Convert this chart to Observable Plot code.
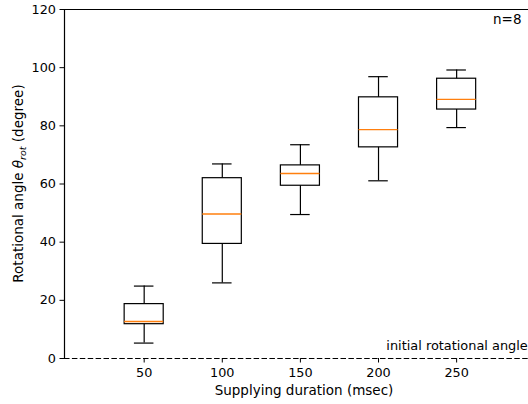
<!DOCTYPE html>
<html><head>
<meta charset="utf-8">
<script src="https://cdn.jsdelivr.net/npm/d3@7"></script>
<script src="https://cdn.jsdelivr.net/npm/@observablehq/plot@0.6"></script>
<style>
body{margin:0;background:#fff}
</style>
</head><body><div id="chart"></div>
<script>
const durations = [50, 100, 150, 200, 250];
const whiskerLow = [5.3, 26.0, 49.5, 61.1, 79.4];
const q1 = [11.8, 39.4, 59.4, 72.6, 85.6];
const median = [12.7, 49.7, 63.6, 78.7, 89.1];
const q3 = [18.7, 62.0, 66.4, 89.8, 96.2];
const whiskerHigh = [24.9, 66.9, 73.5, 96.9, 99.2];
const xTicks = [50, 100, 150, 200, 250];
const yTicks = [0, 20, 40, 60, 80, 100, 120];
const baseline = [0];
const annotation = ["initial rotational angle"];
const nLabel = ["n=8"];
const boxWidth = 25;

const data = durations.map((d, i) => ({
  d, lo: whiskerLow[i], q1: q1[i], med: median[i], q3: q3[i], hi: whiskerHigh[i]
}));

const xMin = -1, xMax = 296;
const lw = 1.2;

const chart = Plot.plot({
  width: 528,
  height: 404,
  marginLeft: 64,
  marginRight: 0,
  marginTop: 9,
  marginBottom: 46,
  style: {fontSize: "12.8px", fontFamily: "DejaVu Sans, sans-serif", color: "black", background: "white", overflow: "visible"},
  x: {domain: [xMin, xMax]},
  y: {domain: [0, 120]},
  marks: [
    Plot.ruleX([xMin], {y1: 0, y2: 120, stroke: "black", strokeWidth: lw}),
    Plot.ruleY([120], {stroke: "black", strokeWidth: lw}),
    Plot.ruleY(baseline, {stroke: "black", strokeWidth: lw, strokeDasharray: "5.5,2.4"}),
    Plot.axisX({ticks: xTicks, tickSize: 4.5, tickPadding: 5, label: null, fontSize: 12.8}),
    Plot.axisY({ticks: yTicks, tickSize: 4.5, tickPadding: 4, label: null, fontSize: 12.8}),
    Plot.ruleX(data, {x: "d", y1: "q3", y2: "hi", stroke: "black", strokeWidth: lw}),
    Plot.ruleX(data, {x: "d", y1: "lo", y2: "q1", stroke: "black", strokeWidth: lw}),
    Plot.ruleY(data, {y: "hi", x1: d => d.d - boxWidth / 4, x2: d => d.d + boxWidth / 4, stroke: "black", strokeWidth: lw}),
    Plot.ruleY(data, {y: "lo", x1: d => d.d - boxWidth / 4, x2: d => d.d + boxWidth / 4, stroke: "black", strokeWidth: lw}),
    Plot.rect(data, {x1: d => d.d - boxWidth / 2, x2: d => d.d + boxWidth / 2, y1: "q1", y2: "q3", fill: "none", stroke: "black", strokeWidth: lw}),
    Plot.ruleY(data, {y: "med", x1: d => d.d - boxWidth / 2, x2: d => d.d + boxWidth / 2, stroke: "#ff7f0e", strokeWidth: 1.4}),
    Plot.text(annotation, {x: 205, y: 2.9, text: d => d, textAnchor: "start", lineAnchor: "bottom", fontSize: 12.9, fill: "black"}),
    Plot.text(nLabel, {frameAnchor: "top-right", text: d => d, dx: -7, dy: 5, lineAnchor: "top", textAnchor: "end", fontSize: 13.5, fill: "black"})
  ]
});

const svg = d3.select(chart);
svg.append("text")
  .attr("x", 304).attr("y", 395)
  .attr("text-anchor", "middle")
  .attr("font-size", 13.5).attr("fill", "black")
  .text("Supplying duration (msec)");
const yl = svg.append("text")
  .attr("transform", "translate(22.5,183.5) rotate(-90)")
  .attr("text-anchor", "middle")
  .attr("font-size", 13.5).attr("fill", "black");
yl.append("tspan").text("Rotational angle ");
yl.append("tspan").attr("font-style", "italic").text("θ");
yl.append("tspan").attr("font-style", "italic").attr("font-size", 9.5).attr("dy", 3).text("rot");
yl.append("tspan").attr("dy", -3).text(" (degree)");

document.getElementById("chart").appendChild(chart);
</script>
</body></html>
